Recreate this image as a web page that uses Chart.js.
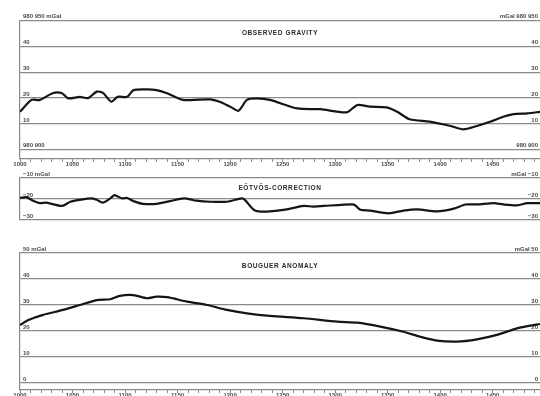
<!DOCTYPE html>
<html>
<head>
<meta charset="utf-8">
<script src="https://cdn.jsdelivr.net/npm/chart.js@4/dist/chart.umd.min.js"></script>
<style>
  html, body { margin: 0; padding: 0; background: #fff; overflow: hidden; width: 540px; height: 396px; }
  #wrap { position: relative; width: 540px; height: 396px; }
  canvas { position: absolute; left: 0; }
</style>
</head>
<body>
<div id="wrap">
  <canvas id="grav" width="540" height="175" style="top:0px"></canvas>
  <canvas id="eot" width="540" height="75" style="top:160px"></canvas>
  <canvas id="boug" width="540" height="165" style="top:238px"></canvas>
</div>
<script>
// Profile position (fix numbers) shared by the x axes
const profileStart = 1000;
const profileEnd = 1495;
const profileLabelStep = 50;

// Observed gravity, mGal above 980 900
const gravityFix = [1000, 1011, 1019, 1031, 1040, 1046, 1057, 1065, 1073, 1079, 1087, 1093, 1102, 1108, 1121, 1130, 1140, 1155, 1165, 1181, 1190, 1200, 1208, 1216, 1225, 1238, 1264, 1286, 1311, 1321, 1333, 1349, 1359, 1371, 1390, 1410, 1422, 1435, 1448, 1460, 1470, 1483, 1495];
const gravityValues = [14.7, 19.3, 19.3, 21.9, 21.9, 19.9, 20.5, 20.0, 22.5, 22.0, 18.6, 20.5, 20.5, 23.1, 23.4, 23.1, 21.9, 19.3, 19.3, 19.5, 18.6, 16.7, 15.1, 19.3, 19.9, 19.3, 16.0, 15.7, 14.5, 17.3, 16.7, 16.4, 14.7, 11.8, 10.9, 9.2, 7.9, 9.2, 10.9, 12.8, 13.8, 14.1, 14.7];
const gravityTicks = [0, 10, 20, 30, 40, 50];
const gravityLeftLabels = ['980 900', '10', '20', '30', '40', '980 950 mGal'];
const gravityRightLabels = ['980 900', '10', '20', '30', '40', 'mGal 980 950'];

// Eötvös correction, mGal
const eotvosFix = [1000, 1006, 1013, 1019, 1025, 1040, 1048, 1057, 1068, 1073, 1079, 1086, 1090, 1097, 1102, 1108, 1117, 1130, 1143, 1156, 1168, 1181, 1197, 1211, 1214, 1222, 1227, 1238, 1254, 1270, 1279, 1289, 1316, 1319, 1324, 1333, 1351, 1365, 1378, 1397, 1413, 1424, 1435, 1451, 1460, 1473, 1483, 1495];
const eotvosValues = [-19.5, -19.1, -21.0, -22.0, -21.7, -23.3, -21.3, -20.4, -19.7, -20.4, -21.7, -19.7, -18.2, -19.7, -19.5, -21.0, -22.3, -22.3, -21.0, -19.7, -20.8, -21.3, -21.3, -19.7, -20.4, -24.9, -25.9, -25.9, -24.9, -23.3, -23.6, -23.3, -22.6, -23.0, -25.1, -25.5, -26.8, -25.5, -24.9, -25.9, -24.6, -22.6, -22.6, -22.0, -22.6, -23.0, -22.0, -22.0];
const eotvosTicks = [-30, -20, -10];
const eotvosLeftLabels = ['−30', '−20', '−10 mGal'];
const eotvosRightLabels = ['−30', '−20', 'mGal −10'];

// Bouguer anomaly, mGal
const bouguerFix = [1000, 1008, 1022, 1041, 1057, 1073, 1086, 1095, 1108, 1121, 1130, 1140, 1159, 1178, 1197, 1216, 1238, 1270, 1302, 1321, 1343, 1365, 1381, 1397, 1416, 1435, 1454, 1473, 1483, 1495];
const bouguerValues = [22.3, 24.2, 26.2, 28.1, 30.0, 31.9, 32.2, 33.5, 33.8, 32.6, 33.2, 33.0, 31.3, 30.0, 28.1, 26.8, 25.8, 24.9, 23.6, 23.2, 21.7, 19.7, 17.8, 16.3, 15.9, 16.8, 18.5, 21.0, 21.9, 22.7];
const bouguerTicks = [0, 10, 20, 30, 40, 50];
const bouguerLeftLabels = ['0', '10', '20', '30', '40', '50 mGal'];
const bouguerRightLabels = ['0', '10', '20', '30', '40', 'mGal 50'];

const GRID = '#8a8a8a';
const INK = '#4a4a4a';
const LABEL_FONT = { family: '"Liberation Sans", Arial, sans-serif', size: 6, weight: 'bold' };

// Panel heading drawn inside the plot, between the top two grid lines
const panelTitle = {
  id: 'panelTitle',
  afterDraw(chart, args, opts) {
    const { ctx, chartArea, scales } = chart;
    const y = (scales.y.getPixelForValue(opts.from) + scales.y.getPixelForValue(opts.to)) / 2;
    ctx.save();
    ctx.font = 'bold 6.5px "Liberation Sans", Arial, sans-serif';
    if ('letterSpacing' in ctx) ctx.letterSpacing = '0.6px';
    ctx.fillStyle = '#2a2a2a';
    ctx.textAlign = 'center';
    ctx.textBaseline = 'middle';
    ctx.fillText(opts.text, (chartArea.left + chartArea.right) / 2, y);
    ctx.restore();
  }
};

function makePanel(id, cfg) {
  const fixedTicks = (scale) => { scale.ticks = cfg.ticks.map(v => ({ value: v })); };
  const yCommon = {
    type: 'linear',
    min: cfg.min,
    max: cfg.max,
    afterBuildTicks: fixedTicks,
    afterFit: (s) => { s.width = 0; }
  };
  new Chart(document.getElementById(id), {
    type: 'line',
    data: {
      datasets: [{
        data: cfg.fix.map((f, i) => ({ x: f, y: cfg.values[i] })),
        borderColor: '#151515',
        borderWidth: 2.2,
        pointRadius: 0,
        tension: 0.25,
        fill: false,
        yAxisID: 'y'
      }]
    },
    options: {
      responsive: false,
      animation: false,
      events: [],
      layout: { padding: cfg.padding },
      plugins: {
        legend: { display: false },
        tooltip: { enabled: false },
        panelTitle: { text: cfg.title, from: cfg.ticks[cfg.ticks.length - 1], to: cfg.ticks[cfg.ticks.length - 2] }
      },
      scales: {
        x: {
          type: 'linear',
          display: cfg.showX,
          min: profileStart,
          max: profileEnd,
          afterFit: (s) => { s.height = 10; },
          border: { display: true, color: GRID, width: 1.2 },
          grid: { display: true, drawOnChartArea: false, drawTicks: true, tickLength: 3, color: GRID, lineWidth: 1 },
          ticks: {
            stepSize: 10,
            includeBounds: false,
            autoSkip: false,
            maxRotation: 0,
            padding: -1,
            color: INK,
            font: LABEL_FONT,
            callback: (v) => (v % profileLabelStep === 0 ? String(v) : '')
          }
        },
        y: Object.assign({}, yCommon, {
          position: 'left',
          border: { display: true, color: GRID, width: 1.2 },
          grid: { display: true, drawTicks: false, color: GRID, lineWidth: 1.3 },
          ticks: {
            mirror: true,
            padding: 3,
            labelOffset: -4,
            color: INK,
            font: LABEL_FONT,
            callback: (v) => cfg.leftLabels[cfg.ticks.indexOf(v)]
          }
        }),
        y2: Object.assign({}, yCommon, {
          position: 'right',
          border: { display: false },
          grid: { display: false, drawTicks: false },
          ticks: {
            mirror: true,
            padding: -2,
            labelOffset: -4,
            color: INK,
            font: LABEL_FONT,
            callback: (v) => cfg.rightLabels[cfg.ticks.indexOf(v)]
          }
        })
      }
    },
    plugins: [panelTitle]
  });
}

makePanel('grav', {
  title: 'OBSERVED GRAVITY',
  fix: gravityFix, values: gravityValues,
  ticks: gravityTicks, leftLabels: gravityLeftLabels, rightLabels: gravityRightLabels,
  min: -3.6, max: 50, showX: true,
  padding: { top: 20.7, left: 20, right: 0, bottom: 6 }
});

makePanel('eot', {
  title: 'EÖTVÖS-CORRECTION',
  fix: eotvosFix, values: eotvosValues,
  ticks: eotvosTicks, leftLabels: eotvosLeftLabels, rightLabels: eotvosRightLabels,
  min: -30, max: -10, showX: false,
  padding: { top: 18, left: 20, right: 0, bottom: 5 }
});

makePanel('boug', {
  title: 'BOUGUER ANOMALY',
  fix: bouguerFix, values: bouguerValues,
  ticks: bouguerTicks, leftLabels: bouguerLeftLabels, rightLabels: bouguerRightLabels,
  min: -2.7, max: 50, showX: true,
  padding: { top: 15, left: 20, right: 0, bottom: 3 }
});
</script>
</body>
</html>
